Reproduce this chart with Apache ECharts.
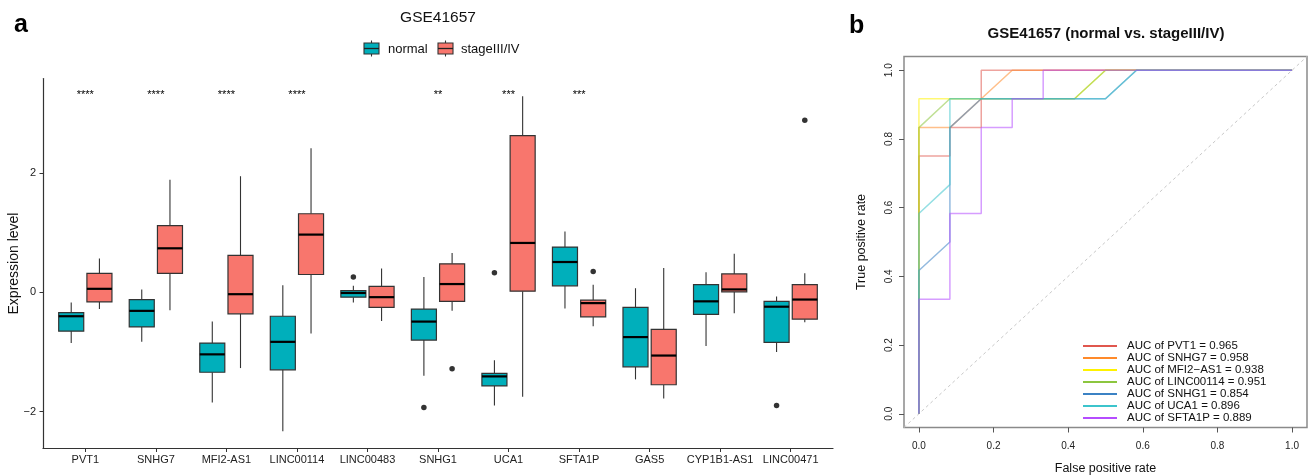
<!DOCTYPE html>
<html>
<head>
<meta charset="utf-8">
<script src="https://cdn.jsdelivr.net/npm/echarts@6/dist/echarts.min.js"></script>
<style>
html,body{margin:0;padding:0;background:#fff;}
#chart{width:1309px;height:476px;}
</style>
</head>
<body>
<div id="chart"></div>
<script>
// ---------- Panel a data ----------
var categories = ['PVT1','SNHG7','MFI2-AS1','LINC00114','LINC00483','SNHG1','UCA1','SFTA1P','GAS5','CYP1B1-AS1','LINC00471'];
// [lower whisker, Q1, median, Q3, upper whisker]
var normalStats = [
  [-0.85, -0.65, -0.40, -0.34, -0.17],
  [-0.83, -0.58, -0.31, -0.12, 0.05],
  [-1.85, -1.34, -1.04, -0.85, -0.49],
  [-2.33, -1.30, -0.83, -0.40, 0.12],
  [-0.17, -0.08, -0.01, 0.03, 0.11],
  [-1.40, -0.80, -0.49, -0.28, 0.26],
  [-1.90, -1.57, -1.41, -1.36, -1.14],
  [-0.27, 0.11, 0.51, 0.76, 1.02],
  [-1.46, -1.25, -0.75, -0.25, 0.07],
  [-0.90, -0.37, -0.15, 0.13, 0.34],
  [-1.00, -0.84, -0.24, -0.15, -0.07]
];
var stageStats = [
  [-0.28, -0.16, 0.06, 0.32, 0.57],
  [-0.30, 0.32, 0.74, 1.12, 1.89],
  [-1.27, -0.36, -0.03, 0.62, 1.95],
  [-0.69, 0.30, 0.97, 1.32, 2.42],
  [-0.48, -0.25, -0.08, 0.10, 0.40],
  [-0.31, -0.15, 0.14, 0.48, 0.66],
  [-1.75, 0.02, 0.83, 2.63, 3.29],
  [-0.57, -0.41, -0.18, -0.13, 0.13],
  [-1.78, -1.55, -1.06, -0.62, 0.41],
  [-0.35, 0.01, 0.05, 0.31, 0.65],
  [-0.50, -0.45, -0.12, 0.13, 0.32]
];
var normalOutliers = [['LINC00483', 0.26], ['SNHG1', -1.93], ['UCA1', 0.33], ['LINC00471', -1.90]];
var stageOutliers = [['SNHG1', -1.28], ['SFTA1P', 0.35], ['LINC00471', 2.89]];
var significance = ['****','****','****','****','','**','***','***','','',''];
var STAR_LEVEL = 3.31;
var yTicksA = [-2, 0, 2];

// ---------- Panel b data ----------
var rocNames = ['AUC of PVT1 = 0.965','AUC of SNHG7 = 0.958','AUC of MFI2\u2212AS1 = 0.938','AUC of LINC00114 = 0.951','AUC of SNHG1 = 0.854','AUC of UCA1 = 0.896','AUC of SFTA1P = 0.889'];
var rocPVT1 = [[0,0],[0,0.75],[0.083,0.75],[0.083,0.833],[0.167,0.833],[0.167,1],[1,1]];
var rocSNHG7 = [[0,0],[0,0.833],[0.083,0.833],[0.167,0.917],[0.25,1],[1,1]];
var rocMFI2 = [[0,0],[0,0.917],[0.083,0.917],[0.417,0.917],[0.5,1],[1,1]];
var rocLINC00114 = [[0,0],[0,0.833],[0.083,0.917],[0.417,0.917],[0.5,1],[1,1]];
var rocSNHG1 = [[0,0],[0,0.417],[0.083,0.5],[0.083,0.833],[0.167,0.917],[0.5,0.917],[0.583,1],[1,1]];
var rocUCA1 = [[0,0],[0,0.583],[0.083,0.667],[0.083,0.917],[0.5,0.917],[0.583,1],[1,1]];
var rocSFTA1P = [[0,0],[0,0.333],[0.083,0.333],[0.083,0.583],[0.167,0.583],[0.167,0.833],[0.25,0.833],[0.25,0.917],[0.333,0.917],[0.333,1],[1,1]];
var rocData = [rocPVT1, rocSNHG7, rocMFI2, rocLINC00114, rocSNHG1, rocUCA1, rocSFTA1P];
var rocColors = ['#E0574E','#FF8A2A','#FFF200','#8CC63F','#3B82C4','#3CC4CC','#B54CFF'];
var rocTicks = [0, 0.2, 0.4, 0.6, 0.8, 1.0];
var ROC_MIN = -0.04, ROC_MAX = 1.04;

// ---------- Build ----------
var FONT = '"Liberation Sans", Arial, Helvetica, sans-serif';
var COL_NORMAL = '#00AFBB', COL_STAGE = '#F8766D';
var DODGE = 0.2, BOX_W = 0.355;

function boxData(stats, offset) {
  return stats.map(function (s, i) { return [i + 1 + offset].concat(s); });
}
function outlierData(list, offset) {
  return list.map(function (o) { return [categories.indexOf(o[0]) + 1 + offset, o[1]]; });
}
function makeBoxRenderer(fill) {
  return function (params, api) {
    var x = api.value(0);
    var pLo = api.coord([x, api.value(1)]);
    var pQ1 = api.coord([x, api.value(2)]);
    var pMed = api.coord([x, api.value(3)]);
    var pQ3 = api.coord([x, api.value(4)]);
    var pHi = api.coord([x, api.value(5)]);
    var w = api.size([BOX_W, 0])[0];
    var cx = pMed[0];
    return {
      type: 'group',
      children: [
        {type: 'line', shape: {x1: cx, y1: pHi[1], x2: cx, y2: pQ3[1]}, style: {stroke: '#333', lineWidth: 1.1}},
        {type: 'line', shape: {x1: cx, y1: pQ1[1], x2: cx, y2: pLo[1]}, style: {stroke: '#333', lineWidth: 1.1}},
        {type: 'rect', shape: {x: cx - w / 2, y: pQ3[1], width: w, height: pQ1[1] - pQ3[1]}, style: {fill: fill, stroke: '#333', lineWidth: 1.2}},
        {type: 'line', shape: {x1: cx - w / 2, y1: pMed[1], x2: cx + w / 2, y2: pMed[1]}, style: {stroke: '#000', lineWidth: 2.2}}
      ]
    };
  };
}

var series = [
  {type: 'custom', name: 'normal', xAxisIndex: 0, yAxisIndex: 0, renderItem: makeBoxRenderer(COL_NORMAL),
   data: boxData(normalStats, -DODGE), encode: {x: 0, y: [1, 2, 3, 4, 5]}, silent: true},
  {type: 'custom', name: 'stageIII/IV', xAxisIndex: 0, yAxisIndex: 0, renderItem: makeBoxRenderer(COL_STAGE),
   data: boxData(stageStats, DODGE), encode: {x: 0, y: [1, 2, 3, 4, 5]}, silent: true},
  {type: 'scatter', xAxisIndex: 0, yAxisIndex: 0, symbolSize: 5.5, itemStyle: {color: '#000'},
   data: outlierData(normalOutliers, -DODGE).concat(outlierData(stageOutliers, DODGE)), silent: true},
  {type: 'custom', xAxisIndex: 0, yAxisIndex: 0, silent: true,
   data: significance.map(function (s, i) { return [i + 1, STAR_LEVEL, s]; }),
   encode: {x: 0, y: 1},
   renderItem: function (params, api) {
     var p = api.coord([api.value(0), api.value(1)]);
     return {type: 'text', x: p[0], y: p[1],
       style: {text: significance[params.dataIndex], fill: '#000', font: '11px ' + FONT, align: 'center', verticalAlign: 'middle'}};
   }}
];

// diagonal reference line for ROC
series.push({type: 'line', xAxisIndex: 1, yAxisIndex: 1, data: [[ROC_MIN, ROC_MIN], [ROC_MAX, ROC_MAX]],
  showSymbol: false, symbol: 'none', silent: true,
  lineStyle: {color: '#c8c8c8', width: 1, type: [3, 3]}});

rocData.forEach(function (d, i) {
  series.push({type: 'line', name: rocNames[i], xAxisIndex: 1, yAxisIndex: 1, data: d,
    showSymbol: false, symbol: 'none', silent: true,
    itemStyle: {color: rocColors[i]},
    lineStyle: {color: rocColors[i], width: 1.5, opacity: 0.55}});
});

var option = {
  animation: false,
  backgroundColor: '#fff',
  textStyle: {fontFamily: FONT},
  grid: [
    {left: 43, top: 78.5, width: 790, height: 370, containLabel: false, outerBoundsMode: 'none'},
    {left: 904, top: 56.5, width: 403, height: 371, show: true, borderColor: '#8a8a8a', borderWidth: 1.5, backgroundColor: 'transparent', containLabel: false, outerBoundsMode: 'none'}
  ],
  xAxis: [
    {type: 'value', gridIndex: 0, min: 0.4, max: 11.6,
     axisLine: {show: true, onZero: false, lineStyle: {color: '#333', width: 1.2}},
     axisTick: {show: true, customValues: categories.map(function (c, i) { return i + 1; }), length: 3.5, lineStyle: {color: '#333', width: 1}},
     axisLabel: {customValues: categories.map(function (c, i) { return i + 1; }), margin: 6, color: '#222', fontSize: 11, fontFamily: FONT,
       formatter: function (v) { return categories[Math.round(v) - 1]; }},
     splitLine: {show: false}},
    {type: 'value', gridIndex: 1, min: ROC_MIN, max: ROC_MAX,
     name: 'False positive rate', nameLocation: 'middle', nameGap: 35, nameMoveOverlap: false,
     nameTextStyle: {fontSize: 12.5, color: '#111', fontFamily: FONT},
     axisLine: {show: false, onZero: false},
     axisTick: {show: true, customValues: rocTicks, length: 5, lineStyle: {color: '#555'}},
     axisLabel: {customValues: rocTicks, margin: 14, color: '#222', fontSize: 10, fontFamily: FONT,
       formatter: function (v) { return v.toFixed(1); }},
     splitLine: {show: false}}
  ],
  yAxis: [
    {type: 'value', gridIndex: 0, min: -2.62, max: 3.59,
     name: 'Expression level', nameLocation: 'middle', nameGap: 22, nameMoveOverlap: false,
     nameTextStyle: {fontSize: 14, color: '#111', fontFamily: FONT},
     axisLine: {show: true, onZero: false, lineStyle: {color: '#333', width: 1.2}},
     axisTick: {show: true, customValues: yTicksA, length: 3.5, lineStyle: {color: '#333'}},
     axisLabel: {customValues: yTicksA, margin: 7, color: '#222', fontSize: 11, fontFamily: FONT,
       formatter: function (v) { return v < 0 ? '\u2212' + Math.abs(v) : String(v); }},
     splitLine: {show: false}},
    {type: 'value', gridIndex: 1, min: ROC_MIN, max: ROC_MAX,
     name: 'True positive rate', nameLocation: 'middle', nameGap: 36, nameMoveOverlap: false,
     nameTextStyle: {fontSize: 12.5, color: '#111', fontFamily: FONT},
     axisLine: {show: false, onZero: false},
     axisTick: {show: true, customValues: rocTicks, length: 5, lineStyle: {color: '#555'}},
     axisLabel: {customValues: rocTicks, margin: 10, rotate: 90, color: '#222', fontSize: 10, fontFamily: FONT,
       formatter: function (v) { return v.toFixed(1); }},
     splitLine: {show: false}}
  ],
  legend: [{
    orient: 'vertical', left: 1078, top: 335, itemGap: 0, itemWidth: 34, itemHeight: 2,
    icon: 'rect', selectedMode: false,
    textStyle: {fontSize: 11.5, lineHeight: 11.5, color: '#111', fontFamily: FONT, padding: [0, 0, 0, 5]},
    data: rocNames.map(function (n, i) { return {name: n, itemStyle: {color: rocColors[i], opacity: 1}}; })
  }],
  graphic: [
    {type: 'text', left: 14, top: 13, style: {text: 'a', font: 'bold 25px ' + FONT, fill: '#000'}},
    {type: 'text', left: 849, top: 14, style: {text: 'b', font: 'bold 25px ' + FONT, fill: '#000'}},
    {type: 'text', x: 438, y: 18, style: {text: 'GSE41657', font: '15.5px ' + FONT, fill: '#111', align: 'center', verticalAlign: 'middle'}},
    {type: 'text', x: 1106, y: 34, style: {text: 'GSE41657 (normal vs. stageIII/IV)', font: 'bold 15px ' + FONT, fill: '#111', align: 'center', verticalAlign: 'middle'}},
    // legend for panel a
    {type: 'group', children: [
      {type: 'line', shape: {x1: 371.5, y1: 40.5, x2: 371.5, y2: 56.5}, style: {stroke: '#333', lineWidth: 1.1}},
      {type: 'rect', shape: {x: 364, y: 43, width: 15, height: 11}, style: {fill: COL_NORMAL, stroke: '#333', lineWidth: 1.1}},
      {type: 'line', shape: {x1: 364, y1: 48.5, x2: 379, y2: 48.5}, style: {stroke: '#222', lineWidth: 1.3}},
      {type: 'text', x: 388, y: 49, style: {text: 'normal', font: '13px ' + FONT, fill: '#111', verticalAlign: 'middle'}},
      {type: 'line', shape: {x1: 445.5, y1: 40.5, x2: 445.5, y2: 56.5}, style: {stroke: '#333', lineWidth: 1.1}},
      {type: 'rect', shape: {x: 438, y: 43, width: 15, height: 11}, style: {fill: COL_STAGE, stroke: '#333', lineWidth: 1.1}},
      {type: 'line', shape: {x1: 438, y1: 48.5, x2: 453, y2: 48.5}, style: {stroke: '#222', lineWidth: 1.3}},
      {type: 'text', x: 461, y: 49, style: {text: 'stageIII/IV', font: '13px ' + FONT, fill: '#111', verticalAlign: 'middle'}}
    ]}
  ],
  series: series
};

var chart = echarts.init(document.getElementById('chart'), null, {renderer: 'canvas'});
chart.setOption(option);
</script>
</body>
</html>
